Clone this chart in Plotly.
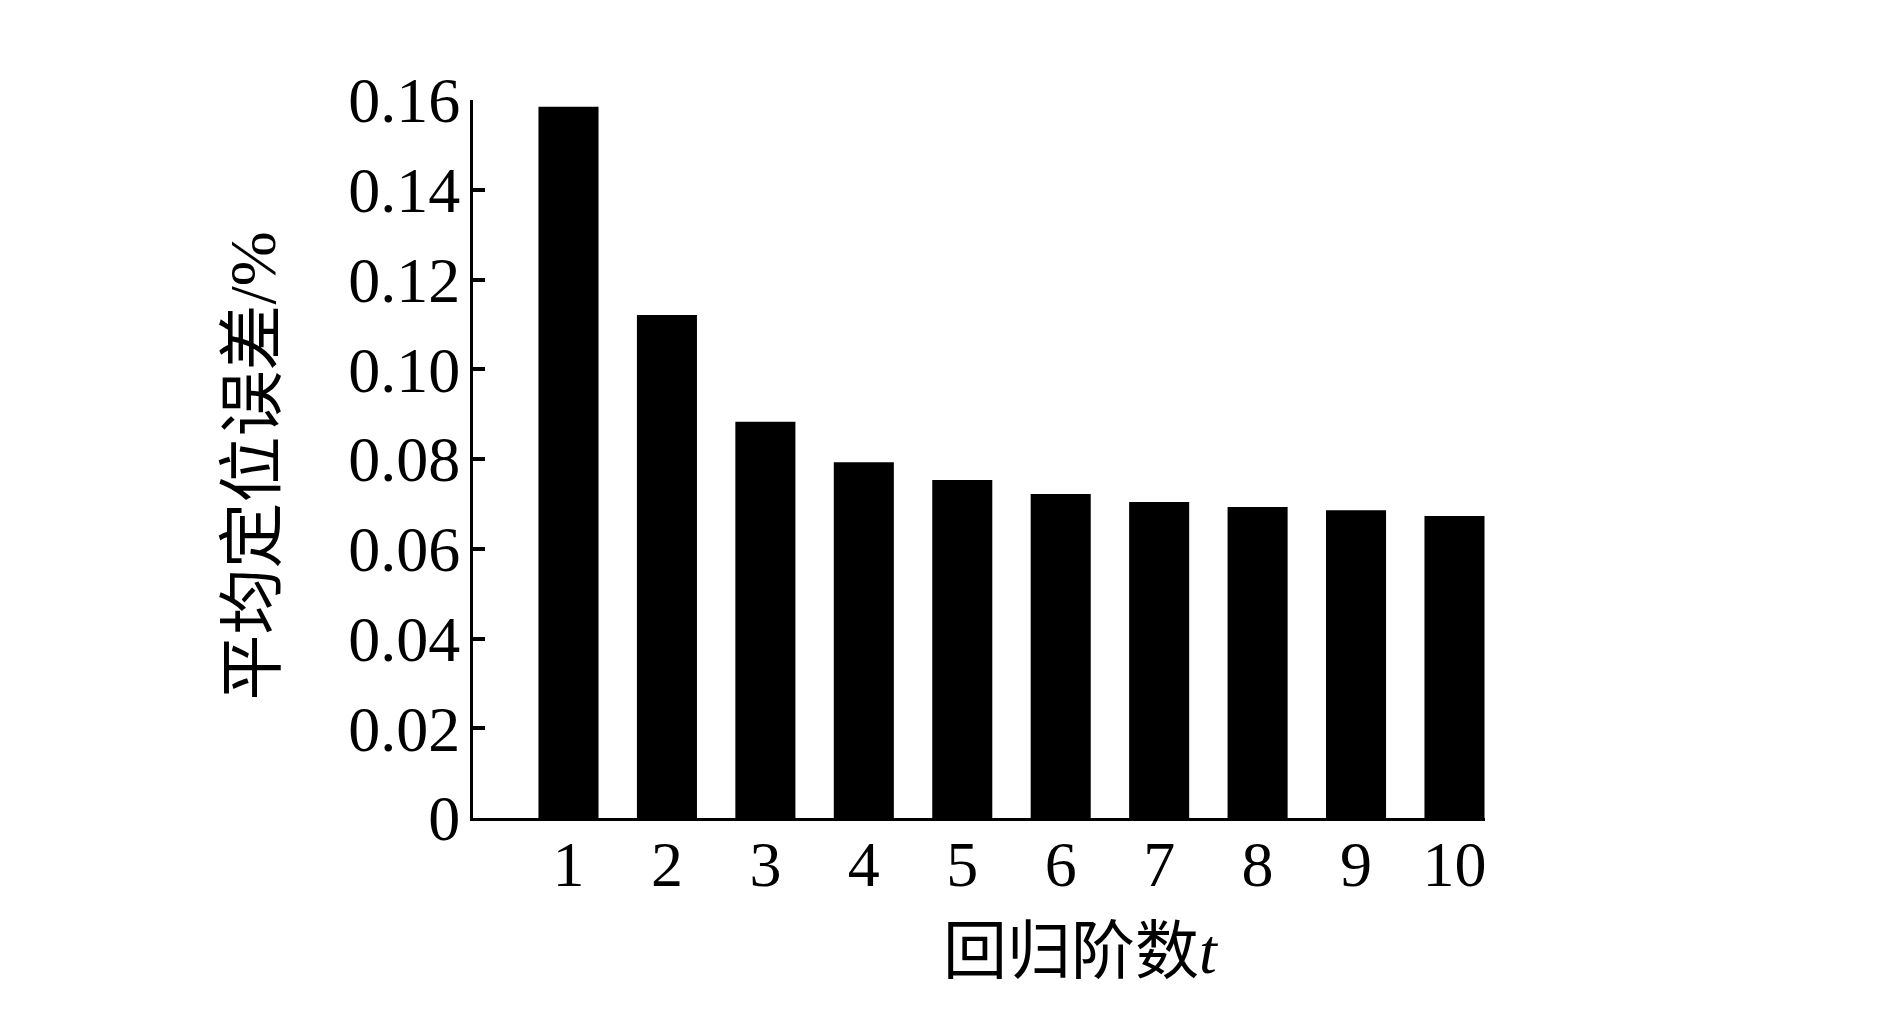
import plotly.graph_objects as go

# regression order t and mean positioning error (%)
orders = [1, 2, 3, 4, 5, 6, 7, 8, 9, 10]
mean_error = [0.1585, 0.1121, 0.0883, 0.0793, 0.0753, 0.0722, 0.0704, 0.0693, 0.0686, 0.0673]

y_ticks = [0, 0.02, 0.04, 0.06, 0.08, 0.10, 0.12, 0.14, 0.16]
y_tick_text = ["0", "0.02", "0.04", "0.06", "0.08", "0.10", "0.12", "0.14", "0.16"]

x_title = "回归阶数<i>t</i>"
y_title = "平均定位误差/%"

SERIF = "Liberation Serif, Times New Roman, Noto Sans CJK SC, serif"

fig = go.Figure()
fig.add_trace(
    go.Bar(
        x=orders,
        y=mean_error,
        width=0.61,
        marker=dict(color="black", line=dict(width=0)),
        showlegend=False,
    )
)

fig.update_xaxes(
    range=[0.03, 10.31],
    tickmode="array",
    tickvals=orders,
    ticktext=[str(o) for o in orders],
    ticks="",
    showgrid=False,
    zeroline=False,
    showline=True,
    linecolor="black",
    linewidth=3,
    tickfont=dict(family=SERIF, size=64, color="black"),
    ticklabelstandoff=-12,
)
fig.update_yaxes(
    range=[0, 0.16],
    tickmode="array",
    tickvals=y_ticks,
    ticktext=y_tick_text,
    ticks="inside",
    ticklen=12,
    tickwidth=4,
    tickcolor="black",
    showgrid=False,
    zeroline=False,
    showline=True,
    linecolor="black",
    linewidth=3,
    tickfont=dict(family=SERIF, size=64, color="black"),
    ticklabelstandoff=-3,
)

fig.add_annotation(
    text=x_title, xref="paper", yref="paper", x=0.601, y=-0.186,
    xanchor="center", yanchor="middle", showarrow=False,
    font=dict(family=SERIF, size=64, color="black"),
)
fig.add_annotation(
    text=y_title, xref="paper", yref="paper", x=-0.218, y=0.49,
    xanchor="center", yanchor="middle", showarrow=False, textangle=-90,
    font=dict(family=SERIF, size=66, color="black"),
)

fig.update_layout(
    width=1890,
    height=1016,
    margin=dict(l=465, r=413, t=92, b=206),
    plot_bgcolor="white",
    paper_bgcolor="white",
)

fig.write_html("out.html")
